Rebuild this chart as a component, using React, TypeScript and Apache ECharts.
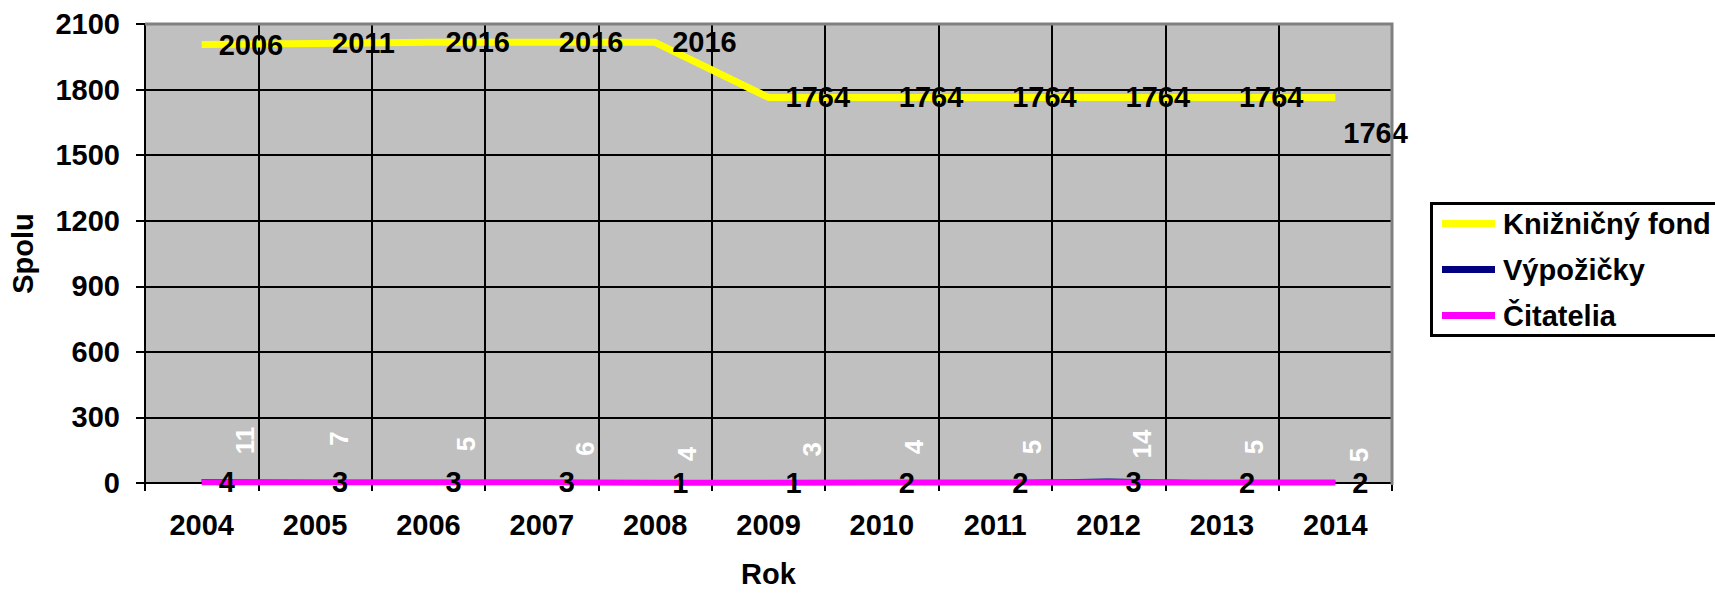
import React, { useEffect, useRef } from "react";
import * as echarts from "echarts";

const categories = ["2004", "2005", "2006", "2007", "2008", "2009", "2010", "2011", "2012", "2013", "2014"];
const fondValues = [2006, 2011, 2016, 2016, 2016, 1764, 1764, 1764, 1764, 1764, 1764];
const vypozickyValues = [11, 7, 5, 6, 4, 3, 4, 5, 14, 5, 5];
const citateliaValues = [4, 3, 3, 3, 1, 1, 2, 2, 3, 2, 2];
const seriesNames = ["Knižničný fond", "Výpožičky", "Čitatelia"];
const yMin = 0;
const yMax = 2100;
const yStep = 300;

// label displacement (screen dx, dy) for the rotated white labels
const vypLabelShift = [
  [43, -40], [24, -43], [38, -38], [43, -33], [32, -28], [43, -33],
  [32, -35], [37, -35], [33, -36], [32, -35], [24, -27],
];

const FONT = '"Liberation Sans", Arial, sans-serif';

export default function App() {
  const ref = useRef<HTMLDivElement>(null);
  useEffect(() => {
    if (!ref.current) return;
    const chart = echarts.init(ref.current, null, { renderer: "svg" });
    const left = 145, top = 24, right = 323, bottom = 108;
    const W = 1715, H = 593;
    const baseLabel = { fontFamily: FONT, fontWeight: "bold", fontSize: 29, color: "#000" };
    chart.setOption({
      animation: false,
      backgroundColor: "#fff",
      textStyle: { fontFamily: FONT },
      grid: {
        left, top, right, bottom,
        show: true,
        backgroundColor: "#C0C0C0",
        borderColor: "#808080",
        borderWidth: 0,
      },
      legend: {
        orient: "vertical",
        left: 1430,
        top: 202,
        padding: [7, 0, 8, 12],
        itemGap: 17,
        itemWidth: 53,
        itemHeight: 7,
        borderWidth: 0,
        z: 10,
        textStyle: { ...baseLabel, padding: [0, 0, 0, 3] },
        data: seriesNames.map((n) => ({ name: n, icon: "rect" })),
      },
      xAxis: {
        type: "category",
        data: categories,
        boundaryGap: true,
        axisLine: { show: true, lineStyle: { color: "#000", width: 2 } },
        axisTick: { show: true, length: 8, lineStyle: { color: "#000", width: 2 } },
        splitLine: { show: true, lineStyle: { color: "#000", width: 2 } },
        axisLabel: { ...baseLabel, margin: 27 },
        name: "Rok",
        nameLocation: "middle",
        nameGap: 76,
        nameTextStyle: { ...baseLabel },
      },
      yAxis: {
        type: "value",
        min: yMin,
        max: yMax,
        interval: yStep,
        axisLine: { show: true, lineStyle: { color: "#000", width: 2 } },
        axisTick: { show: true, length: 9, lineStyle: { color: "#000", width: 2 } },
        splitLine: { show: true, lineStyle: { color: "#000", width: 2 } },
        axisLabel: { ...baseLabel, margin: 25, formatter: (v: number) => String(v) },
        name: "Spolu",
        nameLocation: "middle",
        nameGap: 108,
        nameRotate: 90,
        nameTextStyle: { ...baseLabel },
      },
      graphic: [
        {
          type: "polyline",
          z: 100,
          shape: { points: [[left, top], [W - right, top], [W - right, H - bottom]] },
          style: { stroke: "#808080", lineWidth: 3, fill: null },
          silent: true,
        },
        {
          type: "rect",
          z: 1,
          shape: { x: 1431.5, y: 203.5, width: 400, height: 132 },
          style: { stroke: "#000", lineWidth: 3, fill: "#fff" },
          silent: true,
        },
      ],
      series: [
        {
          name: seriesNames[0],
          type: "line",
          color: "#FFFF00",
          symbol: "circle",
          symbolSize: 0,
          lineStyle: { color: "#FFFF00", width: 7 },
          label: { show: true, position: "right", distance: 17, ...baseLabel },
          data: fondValues.map((v, i) =>
            i === fondValues.length - 1 ? { value: v, label: { offset: [-9, 36] } } : v
          ),
          z: 3,
        },
        {
          name: seriesNames[1],
          type: "line",
          color: "#000080",
          symbol: "circle",
          symbolSize: 0,
          lineStyle: { color: "#000080", width: 3 },
          label: {
            show: true,
            position: "inside",
            rotate: 90,
            fontFamily: FONT,
            fontWeight: "bold",
            fontSize: 26,
            color: "#fff",
          },
          data: vypozickyValues.map((v, i) => ({
            value: v,
            label: { offset: [-vypLabelShift[i][1], vypLabelShift[i][0]] },
          })),
          z: 4,
        },
        {
          name: seriesNames[2],
          type: "line",
          color: "#FF00FF",
          symbol: "circle",
          symbolSize: 0,
          lineStyle: { color: "#FF00FF", width: 6 },
          label: { show: true, position: "right", distance: 17, ...baseLabel },
          data: citateliaValues,
          z: 5,
        },
      ],
    });
    return () => chart.dispose();
  }, []);
  return (
    <div
      ref={ref}
      style={{ position: "fixed", left: 0, top: 0, width: 1715, height: 593 }}
    />
  );
}
